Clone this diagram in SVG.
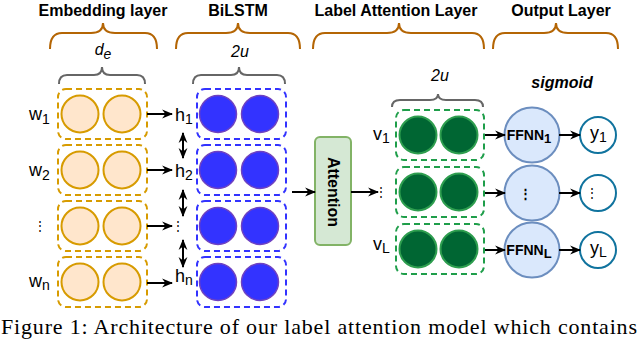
<svg xmlns="http://www.w3.org/2000/svg" width="640" height="340" viewBox="0 0 640 340">
<defs>
<marker id="arr" viewBox="0 0 10 10" refX="9" refY="5" markerWidth="11" markerHeight="11" markerUnits="userSpaceOnUse" orient="auto-start-reverse"><path d="M0,1 L10,5 L0,9 L3,5 z" fill="#000"/></marker>
<style>
text{font-family:"Liberation Sans",Arial,sans-serif;fill:#000}
.title{font-size:16px;font-weight:bold;text-anchor:middle}
.lab{font-size:18px}
.sub{font-size:14px}
.it{font-size:16px;font-style:italic;text-anchor:middle}
.obrace{fill:none;stroke:#b46504;stroke-width:2}
.gbrace{fill:none;stroke:#666;stroke-width:2}
.erect{fill:none;stroke:#d79b00;stroke-width:2;stroke-dasharray:6 4}
.ecirc{fill:#ffe6cc;stroke:#d79b00;stroke-width:2}
.brect{fill:none;stroke:#3333ff;stroke-width:2;stroke-dasharray:6 4}
.bcirc{fill:#3333ff;stroke:#6f42c1;stroke-width:1.5}
.grect{fill:none;stroke:#1f9e4a;stroke-width:2;stroke-dasharray:6 4}
.gcirc{fill:#006633;stroke:#2e9e4f;stroke-width:2}
.ffnn{fill:#dae8fc;stroke:#6c8ebf;stroke-width:2}
.yc{fill:#fff;stroke:#10739e;stroke-width:2}
.edge{fill:none;stroke:#000;stroke-width:2;marker-end:url(#arr)}
.dedge{fill:none;stroke:#000;stroke-width:2;marker-end:url(#arr);marker-start:url(#arr)}
.vdots{font-size:12px;text-anchor:middle}
</style>
</defs>
<rect width="640" height="340" fill="#fff"/>

<g id="titles">
<text class="title" x="103" y="16">Embedding layer</text>
<text class="title" x="238" y="16">BiLSTM</text>
<text class="title" x="396" y="16">Label Attention Layer</text>
<text class="title" x="561" y="16">Output Layer</text>
</g>

<g id="braces">
<path class="obrace" d="M50,49 Q50,33 62,33 L91,33 Q103,33 103,23 Q103,33 115,33 L145,33 Q157,33 157,49"/>
<path class="obrace" d="M176,49 Q176,33 188,33 L226,33 Q238,33 238,23 Q238,33 250,33 L288,33 Q300,33 300,49"/>
<path class="obrace" d="M313,49 Q313,33 325,33 L387,33 Q399,33 399,23 Q399,33 411,33 L472,33 Q484,33 484,49"/>
<path class="obrace" d="M493,49 Q493,33 505,33 L544,33 Q556,33 556,23 Q556,33 568,33 L606,33 Q618,33 618,49"/>
<path class="gbrace" d="M59,84 Q59,75 67,75 L94,75 Q102,75 102,67 Q102,75 110,75 L137,75 Q145,75 145,84"/>
<path class="gbrace" d="M193,84 Q193,75 201,75 L231,75 Q239,75 239,67 Q239,75 247,75 L277,75 Q285,75 285,84"/>
<path class="gbrace" d="M392,107 Q392,100 400,100 L430,100 Q438,100 438,94 Q438,100 446,100 L475,100 Q483,100 483,107"/>
<text class="it" x="103" y="55">d<tspan font-size="14" dy="4">e</tspan></text>
<text class="it" x="240" y="57">2u</text>
<text class="it" x="440" y="81">2u</text>
<text x="562" y="88" style="font-size:16px;font-weight:bold;font-style:italic;text-anchor:middle">sigmoid</text>
</g>

<g id="embedding">
<g id="emb1"><rect class="erect" x="58" y="89" width="89" height="50" rx="8"/><circle class="ecirc" cx="80" cy="114" r="18.5"/><circle class="ecirc" cx="122" cy="114" r="18.5"/></g>
<g id="emb2"><rect class="erect" x="58" y="145" width="89" height="50" rx="8"/><circle class="ecirc" cx="80" cy="170" r="18.5"/><circle class="ecirc" cx="122" cy="170" r="18.5"/></g>
<g id="emb3"><rect class="erect" x="58" y="201" width="89" height="50" rx="8"/><circle class="ecirc" cx="80" cy="226" r="18.5"/><circle class="ecirc" cx="122" cy="226" r="18.5"/></g>
<g id="emb4"><rect class="erect" x="58" y="257" width="89" height="50" rx="8"/><circle class="ecirc" cx="80" cy="282" r="18.5"/><circle class="ecirc" cx="122" cy="282" r="18.5"/></g>
<text class="lab" x="29" y="120">w<tspan class="sub" dy="4">1</tspan></text>
<text class="lab" x="29" y="176">w<tspan class="sub" dy="4">2</tspan></text>
<text class="vdots" x="40" y="230">⋮</text>
<text class="lab" x="29" y="287">w<tspan class="sub" dy="3">n</tspan></text>
</g>

<g id="bilstm">
<g id="h1"><rect class="brect" x="197" y="89" width="89" height="50" rx="8"/><circle class="bcirc" cx="218" cy="114" r="18.5"/><circle class="bcirc" cx="260" cy="114" r="18.5"/></g>
<g id="h2"><rect class="brect" x="197" y="145" width="89" height="50" rx="8"/><circle class="bcirc" cx="218" cy="170" r="18.5"/><circle class="bcirc" cx="260" cy="170" r="18.5"/></g>
<g id="h3"><rect class="brect" x="197" y="201" width="89" height="50" rx="8"/><circle class="bcirc" cx="218" cy="226" r="18.5"/><circle class="bcirc" cx="260" cy="226" r="18.5"/></g>
<g id="h4"><rect class="brect" x="197" y="257" width="89" height="50" rx="8"/><circle class="bcirc" cx="218" cy="282" r="18.5"/><circle class="bcirc" cx="260" cy="282" r="18.5"/></g>
<text class="lab" x="175" y="121">h<tspan class="sub" dy="3">1</tspan></text>
<text class="lab" x="175" y="177">h<tspan class="sub" dy="3">2</tspan></text>
<text class="vdots" x="178" y="230">⋮</text>
<text class="lab" x="175" y="282">h<tspan class="sub" dy="3">n</tspan></text>
</g>

<g id="attention">
<rect x="315" y="137" width="36" height="108" rx="5" fill="#d5e8d4" stroke="#82b366" stroke-width="2"/>
<text transform="translate(333,192) rotate(90)" x="0" y="0" dominant-baseline="central" style="font-size:16px;font-weight:bold;text-anchor:middle">Attention</text>
<text class="vdots" x="381" y="196">⋮</text>
</g>

<g id="labelatt">
<g id="v1"><rect class="grect" x="396" y="110" width="88" height="50" rx="8"/><circle class="gcirc" cx="418" cy="135" r="18.5"/><circle class="gcirc" cx="459" cy="135" r="18.5"/></g>
<g id="v2"><rect class="grect" x="396" y="167" width="88" height="50" rx="8"/><circle class="gcirc" cx="418" cy="192" r="18.5"/><circle class="gcirc" cx="459" cy="192" r="18.5"/></g>
<g id="v3"><rect class="grect" x="396" y="224" width="88" height="50" rx="8"/><circle class="gcirc" cx="418" cy="249" r="18.5"/><circle class="gcirc" cx="459" cy="249" r="18.5"/></g>
<text class="lab" x="373" y="140">v<tspan class="sub" dy="3">1</tspan></text>
<text class="lab" x="373" y="250">v<tspan class="sub" dy="3">L</tspan></text>
</g>

<g id="output">
<g id="ffnn1"><circle class="ffnn" cx="532" cy="135" r="27.5"/><text x="529" y="140" style="font-size:14px;font-weight:bold;text-anchor:middle">FFNN<tspan font-size="13" dy="3">1</tspan></text></g>
<g id="ffnn2"><circle class="ffnn" cx="532" cy="193" r="27.5"/><text x="525" y="198" style="font-size:13px;font-weight:bold;text-anchor:middle">⋮</text></g>
<g id="ffnnL"><circle class="ffnn" cx="532" cy="250" r="27.5"/><text x="529" y="255" style="font-size:14px;font-weight:bold;text-anchor:middle">FFNN<tspan font-size="13" dy="3">L</tspan></text></g>
<g id="y1"><circle class="yc" cx="598" cy="135" r="18"/><text class="lab" x="590" y="139">y<tspan class="sub" dy="3">1</tspan></text></g>
<g id="y2"><circle class="yc" cx="598" cy="193" r="18"/><text class="vdots" x="592" y="197">⋮</text></g>
<g id="yL"><circle class="yc" cx="598" cy="250" r="18"/><text class="lab" x="590" y="254">y<tspan class="sub" dy="3">L</tspan></text></g>
</g>

<g id="connectors">
<line class="edge" x1="147" y1="114" x2="172" y2="114"/>
<line class="edge" x1="147" y1="170" x2="172" y2="170"/>
<line class="edge" x1="147" y1="226" x2="172" y2="226"/>
<line class="edge" x1="147" y1="283" x2="172" y2="283"/>
<line class="dedge" x1="183" y1="133" x2="183" y2="158"/>
<line class="dedge" x1="183" y1="190" x2="183" y2="216"/>
<line class="dedge" x1="183" y1="240" x2="183" y2="267"/>
<line class="edge" x1="292" y1="192" x2="315" y2="192"/>
<line class="edge" x1="351" y1="192" x2="378" y2="192"/>
<line class="edge" x1="485" y1="135" x2="505" y2="135"/>
<line class="edge" x1="485" y1="193" x2="505" y2="193"/>
<line class="edge" x1="485" y1="250" x2="505" y2="250"/>
<line class="edge" x1="559" y1="135" x2="580" y2="135"/>
<line class="edge" x1="559" y1="193" x2="580" y2="193"/>
<line class="edge" x1="559" y1="250" x2="580" y2="250"/>
</g>

<text x="1" y="334" textLength="636" lengthAdjust="spacing" style="font-family:'Liberation Serif','Times New Roman',serif;font-size:22px">Figure 1:  Architecture of our label attention model which contains</text>
</svg>
